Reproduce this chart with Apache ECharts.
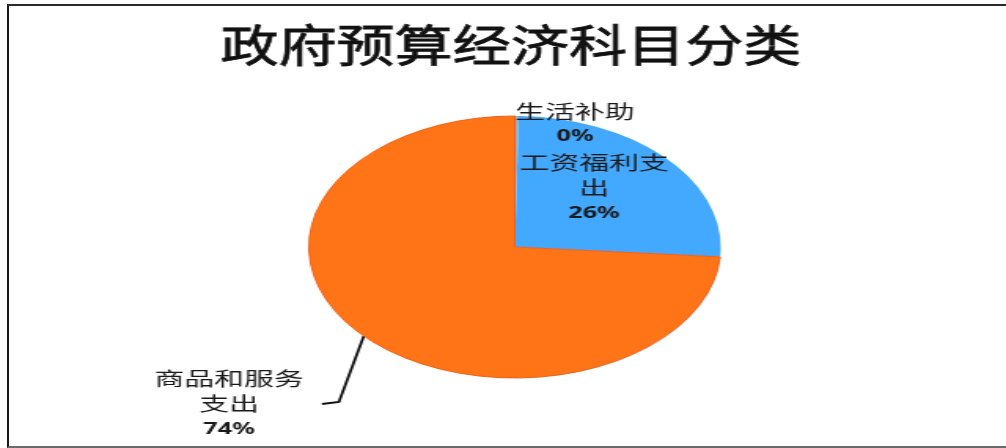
<!DOCTYPE html>
<html><head><meta charset="utf-8">
<script src="https://cdn.jsdelivr.net/npm/echarts/dist/echarts.min.js"></script>
<style>
html,body{margin:0;padding:0;background:#fff;overflow:hidden;width:1006px;height:448px}
#frame{position:absolute;left:7px;top:4px;width:1010px;height:440px;border-top:2px solid #2a2a2a;border-left:2px solid #1a1a1a;border-bottom:2px solid #6a6a6a;pointer-events:none}
#chart{position:absolute;left:0;top:0;width:640px;height:448px;transform:scaleX(1.571875);transform-origin:0 0}
</style></head><body>
<div id="chart"></div><div id="frame"></div>
<script>
// ---- data ----
const titleText = '政府预算经济科目分类';
const categories = ['生活补助', '工资福利支出', '商品和服务支出'];
const values = [0.3, 25.9, 73.8];
const colors = ['#a3aab3', '#42a9ff', '#ff7416'];
const borderColors = ['#a3aab3', '#42a9ff', '#f2601a'];

// ---- label layout (unscaled canvas coords) ----
const labelPos = [[365.8, 124], [377.9, 188], [145.7, 404]];
const leaderBend = [[215.6, 402], [204.8, 404]];
const insideFlags = [true, true, false];

function wrapName(name) {
  return name.match(/.{1,5}/g).map(s => '{n|' + s + '}').join('\n');
}

const chart = echarts.init(document.getElementById('chart'), null, {renderer: 'canvas'});
chart.setOption({
  animation: false,
  backgroundColor: '#fff',
  graphic: [{
    type: 'text', x: 325, y: 45, scaleX: 0.84,
    style: {
      text: titleText, fontSize: 44, fontWeight: 'normal', fontFamily: 'Noto Sans CJK SC', fill: '#111',
      stroke: '#111', lineWidth: 0.8,
      align: 'center', verticalAlign: 'middle', textAlign: 'center', textVerticalAlign: 'middle'
    }
  }],
  series: [{
    type: 'pie',
    center: [327.5, 247],
    radius: 131,
    startAngle: 90,
    clockwise: true,
    avoidLabelOverlap: false,
    emphasis: {disabled: true},
    data: categories.map((c, i) => ({
      name: c,
      value: values[i],
      itemStyle: {color: colors[i], borderColor: borderColors[i], borderWidth: i === 2 ? 1 : 0},
      label: {position: insideFlags[i] ? 'inside' : 'outside'},
      labelLine: {show: !insideFlags[i], lineStyle: {color: '#111', width: 1.8}}
    })),
    label: {
      show: true,
      color: '#1a1a1a',
      formatter: p => wrapName(p.name) + '\n{p|' + Math.round(p.percent) + '%}',
      rich: {
        n: {fontSize: 19, lineHeight: 25, fontFamily: 'Noto Sans CJK SC', color: '#1a1a1a'},
        p: {fontSize: 16, lineHeight: 25, fontWeight: 'bold', fontFamily: 'Noto Sans', color: '#1a1a1a'}
      }
    },
    labelLayout: function (params) {
      const i = params.dataIndex;
      const out = {x: labelPos[i][0], y: labelPos[i][1], align: 'center', verticalAlign: 'middle'};
      if (!insideFlags[i] && params.labelLinePoints) {
        const p0 = params.labelLinePoints[0];
        out.labelLinePoints = [[p0[0], p0[1]], leaderBend[0], leaderBend[1]];
      }
      return out;
    }
  }]
});
</script>
</body></html>
